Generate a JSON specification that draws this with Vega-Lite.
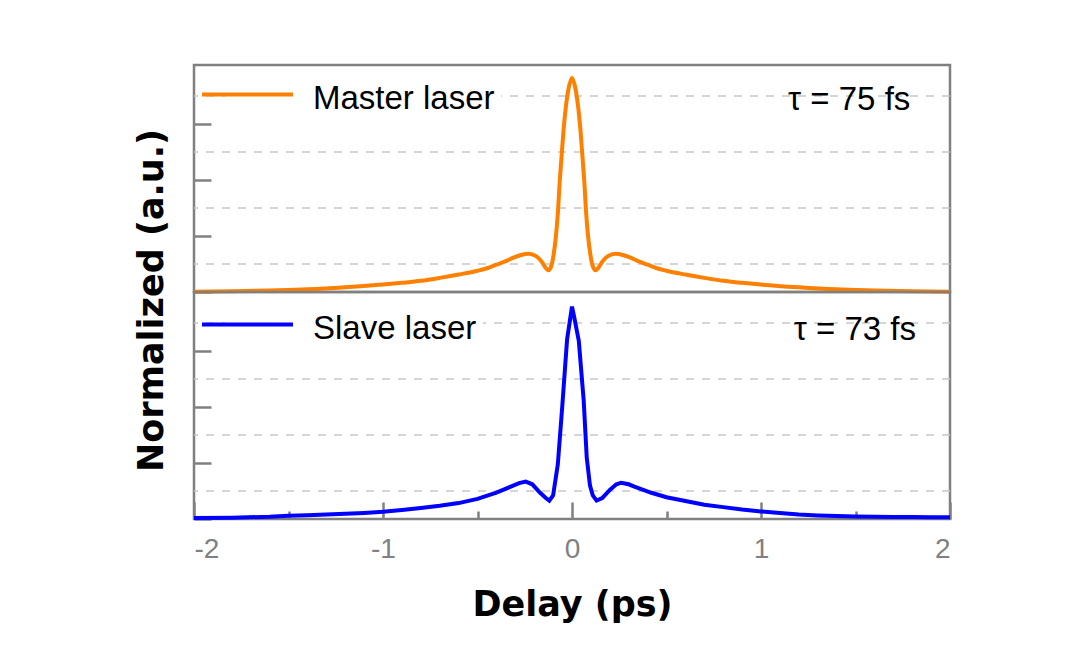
{
  "$schema": "https://vega.github.io/schema/vega-lite/v6.json",
  "padding": {"left": 132, "top": 63, "right": 0, "bottom": 0},
  "background": "white",
  "config": {
    "view": {"stroke": "#808080", "strokeWidth": 2.5},
    "font": "Liberation Sans",
    "legend": {
      "orient": "none",
      "symbolType": "M-5,-0.44H5",
      "symbolSize": 331,
      "symbolStrokeWidth": 4,
      "labelFont": "Liberation Sans",
      "labelFontSize": 33,
      "labelColor": "black",
      "labelOffset": 49,
      "labelLimit": 400,
      "fillColor": "white",
      "padding": 6,
      "title": null
    }
  },
  "datasets": {
    "grid": [{"g": 0.125}, {"g": 0.375}, {"g": 0.625}, {"g": 0.875}],
    "master": [
      {"x": -2.0, "v": 0.001}, {"x": -1.8, "v": 0.003}, {"x": -1.6, "v": 0.007}, {"x": -1.4, "v": 0.012},
      {"x": -1.2, "v": 0.021}, {"x": -1.0, "v": 0.033}, {"x": -0.9, "v": 0.041}, {"x": -0.8, "v": 0.050},
      {"x": -0.7, "v": 0.063}, {"x": -0.6, "v": 0.078}, {"x": -0.5, "v": 0.095}, {"x": -0.45, "v": 0.106},
      {"x": -0.4, "v": 0.122}, {"x": -0.35, "v": 0.138}, {"x": -0.31, "v": 0.153}, {"x": -0.27, "v": 0.165},
      {"x": -0.23, "v": 0.171}, {"x": -0.19, "v": 0.160}, {"x": -0.16, "v": 0.135}, {"x": -0.14, "v": 0.108},
      {"x": -0.125, "v": 0.097}, {"x": -0.11, "v": 0.115}, {"x": -0.097, "v": 0.168}, {"x": -0.085, "v": 0.25},
      {"x": -0.074, "v": 0.362}, {"x": -0.066, "v": 0.48}, {"x": -0.057, "v": 0.585}, {"x": -0.045, "v": 0.72},
      {"x": -0.035, "v": 0.808}, {"x": -0.02, "v": 0.90}, {"x": 0.0, "v": 0.955},
      {"x": 0.02, "v": 0.90}, {"x": 0.035, "v": 0.808}, {"x": 0.045, "v": 0.72}, {"x": 0.057, "v": 0.585},
      {"x": 0.066, "v": 0.48}, {"x": 0.074, "v": 0.362}, {"x": 0.085, "v": 0.25}, {"x": 0.097, "v": 0.168},
      {"x": 0.11, "v": 0.115}, {"x": 0.125, "v": 0.097}, {"x": 0.14, "v": 0.108}, {"x": 0.16, "v": 0.135},
      {"x": 0.19, "v": 0.160}, {"x": 0.23, "v": 0.171}, {"x": 0.27, "v": 0.165}, {"x": 0.31, "v": 0.153},
      {"x": 0.35, "v": 0.138}, {"x": 0.4, "v": 0.122}, {"x": 0.45, "v": 0.106}, {"x": 0.5, "v": 0.095},
      {"x": 0.6, "v": 0.078}, {"x": 0.7, "v": 0.063}, {"x": 0.8, "v": 0.050}, {"x": 0.9, "v": 0.041},
      {"x": 1.0, "v": 0.033}, {"x": 1.2, "v": 0.021}, {"x": 1.4, "v": 0.012}, {"x": 1.6, "v": 0.007},
      {"x": 1.8, "v": 0.003}, {"x": 2.0, "v": 0.001}
    ],
    "slave": [
      {"x": -2.0, "v": 0.004}, {"x": -1.8, "v": 0.006}, {"x": -1.6, "v": 0.010}, {"x": -1.5, "v": 0.014},
      {"x": -1.4, "v": 0.017}, {"x": -1.3, "v": 0.020}, {"x": -1.2, "v": 0.023}, {"x": -1.1, "v": 0.027},
      {"x": -1.0, "v": 0.032}, {"x": -0.9, "v": 0.040}, {"x": -0.8, "v": 0.049}, {"x": -0.7, "v": 0.059},
      {"x": -0.6, "v": 0.071}, {"x": -0.5, "v": 0.090}, {"x": -0.4, "v": 0.118}, {"x": -0.33, "v": 0.142},
      {"x": -0.28, "v": 0.160}, {"x": -0.245, "v": 0.167}, {"x": -0.21, "v": 0.155}, {"x": -0.17, "v": 0.118},
      {"x": -0.14, "v": 0.095}, {"x": -0.12, "v": 0.082}, {"x": -0.10, "v": 0.105}, {"x": -0.075, "v": 0.244},
      {"x": -0.052, "v": 0.497}, {"x": -0.026, "v": 0.802}, {"x": 0.0, "v": 0.948}, {"x": 0.012, "v": 0.90},
      {"x": 0.036, "v": 0.795}, {"x": 0.062, "v": 0.527}, {"x": 0.078, "v": 0.274}, {"x": 0.095, "v": 0.15},
      {"x": 0.11, "v": 0.105}, {"x": 0.13, "v": 0.082}, {"x": 0.16, "v": 0.093}, {"x": 0.2, "v": 0.130},
      {"x": 0.235, "v": 0.155}, {"x": 0.26, "v": 0.162}, {"x": 0.3, "v": 0.155}, {"x": 0.33, "v": 0.145},
      {"x": 0.42, "v": 0.117}, {"x": 0.5, "v": 0.097}, {"x": 0.6, "v": 0.080}, {"x": 0.7, "v": 0.064},
      {"x": 0.8, "v": 0.053}, {"x": 0.9, "v": 0.042}, {"x": 1.0, "v": 0.034}, {"x": 1.1, "v": 0.027},
      {"x": 1.2, "v": 0.020}, {"x": 1.3, "v": 0.016}, {"x": 1.4, "v": 0.013}, {"x": 1.5, "v": 0.011},
      {"x": 1.6, "v": 0.010}, {"x": 1.7, "v": 0.009}, {"x": 1.8, "v": 0.009}, {"x": 1.9, "v": 0.008},
      {"x": 2.0, "v": 0.008}
    ],
    "masterNote": [{"x": 1.79, "v": 0.8125, "label": "τ = 75 fs"}],
    "slaveNote": [{"x": 1.82, "v": 0.799, "label": "τ = 73 fs"}]
  },
  "bounds": "flush",
  "spacing": 0,
  "resolve": {"scale": {"color": "independent"}, "legend": {"color": "independent"}},
  "vconcat": [
    {
      "width": 756,
      "height": 227,
      "layer": [
        {
          "data": {"name": "grid"},
          "mark": {"type": "rule", "color": "#c8c8c8", "strokeWidth": 1.5, "strokeDash": [8, 8]},
          "encoding": {
            "y": {"field": "g", "type": "quantitative"}
          }
        },
        {
          "data": {"name": "master"},
          "transform": [{"calculate": "'Master laser'", "as": "laser"}],
          "mark": {"type": "line", "strokeWidth": 4, "interpolate": "monotone"},
          "encoding": {
            "x": {"field": "x", "type": "quantitative", "scale": {"domain": [-2, 2], "nice": false}, "axis": null},
            "y": {
              "field": "v", "type": "quantitative",
              "scale": {"domain": [0, 1.0134], "nice": false},
              "axis": {
                "values": [0, 0.125, 0.25, 0.375, 0.5, 0.625, 0.75, 0.875],
                "labels": false, "domain": false, "grid": false,
                "tickColor": "#808080", "tickWidth": 2.5,
                "tickSize": {"condition": {"test": "round(datum.value*8) % 2 === 0", "value": -17}, "value": -8},
                "title": "Normalized (a.u.)",
                "titleFont": "DejaVu Sans", "titleFontSize": 35, "titleFontWeight": "bold", "titleColor": "black",
                "titleAngle": 270, "titleAlign": "center", "titleBaseline": "alphabetic",
                "titleX": -32, "titleY": 235
              }
            },
            "color": {
              "field": "laser", "type": "nominal",
              "scale": {"domain": ["Master laser"], "range": ["#ff8000"]},
              "legend": {"legendX": 31, "legendY": 11}
            }
          }
        },
        {
          "data": {"name": "masterNote"},
          "mark": {"type": "text", "align": "right", "baseline": "alphabetic", "font": "Liberation Sans", "fontSize": 33, "color": "black"},
          "encoding": {
            "x": {"field": "x", "type": "quantitative"},
            "y": {"field": "v", "type": "quantitative"},
            "text": {"field": "label"}
          }
        }
      ]
    },
    {
      "width": 756,
      "height": 227,
      "layer": [
        {
          "data": {"name": "grid"},
          "mark": {"type": "rule", "color": "#c8c8c8", "strokeWidth": 1.5, "strokeDash": [8, 8]},
          "encoding": {
            "y": {"field": "g", "type": "quantitative"}
          }
        },
        {
          "data": {"name": "slave"},
          "transform": [{"calculate": "'Slave laser'", "as": "laser"}],
          "mark": {"type": "line", "strokeWidth": 4},
          "encoding": {
            "x": {
              "field": "x", "type": "quantitative", "scale": {"domain": [-2, 2], "nice": false},
              "axis": {
                "values": [-2, -1.5, -1, -0.5, 0, 0.5, 1, 1.5, 2],
                "domain": false, "grid": false,
                "tickColor": "#808080", "tickWidth": 2.5,
                "tickSize": {"condition": {"test": "datum.value % 1 === 0", "value": -17}, "value": -8},
                "labelExpr": "datum.value % 1 === 0 ? toString(datum.value) : ''",
                "labelFont": "Liberation Sans", "labelFontSize": 28, "labelColor": "#808080",
                "labelPadding": 33,
                "title": "Delay (ps)",
                "titleFont": "DejaVu Sans", "titleFontSize": 35, "titleFontWeight": "bold", "titleColor": "black",
                "titlePadding": 24
              }
            },
            "y": {
              "field": "v", "type": "quantitative",
              "scale": {"domain": [0, 1.0134], "nice": false},
              "axis": {
                "values": [0, 0.125, 0.25, 0.375, 0.5, 0.625, 0.75, 0.875],
                "labels": false, "domain": false, "grid": false,
                "tickColor": "#808080", "tickWidth": 2.5,
                "tickSize": {"condition": {"test": "round(datum.value*8) % 2 === 0", "value": -17}, "value": -8},
                "title": null
              }
            },
            "color": {
              "field": "laser", "type": "nominal",
              "scale": {"domain": ["Slave laser"], "range": ["#0000ff"]},
              "legend": {"legendX": 31, "legendY": 14}
            }
          }
        },
        {
          "data": {"name": "slaveNote"},
          "mark": {"type": "text", "align": "right", "baseline": "alphabetic", "font": "Liberation Sans", "fontSize": 33, "color": "black"},
          "encoding": {
            "x": {"field": "x", "type": "quantitative"},
            "y": {"field": "v", "type": "quantitative"},
            "text": {"field": "label"}
          }
        }
      ]
    }
  ]
}
